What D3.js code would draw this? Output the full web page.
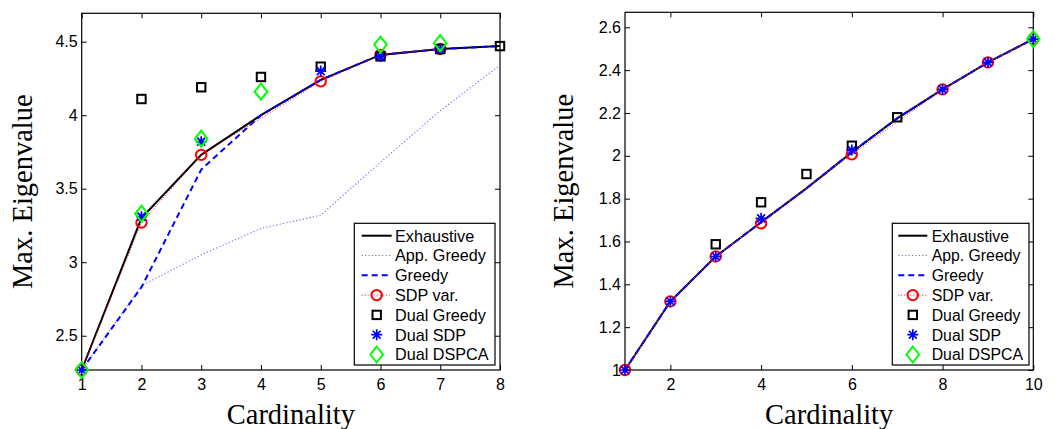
<!DOCTYPE html>
<html><head><meta charset="utf-8">
<script src="https://cdn.jsdelivr.net/npm/d3@7"></script>
<style>body{margin:0;background:#fff}svg{display:block}</style>
</head><body>
<svg id="c" width="1055" height="429"></svg>
<script>
// ---- Data (left panel) ----
const cardL = [1, 2, 3, 4, 5, 6, 7, 8];
const exhaustiveL = [2.267, 3.30, 3.73, 4.00, 4.24, 4.41, 4.45, 4.47];
const appGreedyL  = [2.267, 2.84, 3.05, 3.23, 3.32, 3.68, 4.03, 4.34];
const greedyL     = [2.267, 2.83, 3.63, 4.00, 4.24, 4.41, 4.45, 4.47];
const sdpVarL     = [2.267, 3.27, 3.73, null, 4.23, 4.41, 4.45, null];
const dualGreedyL = [null, 4.11, 4.19, 4.26, 4.33, 4.40, 4.45, 4.47];
const dualSdpL    = [2.267, 3.31, 3.82, null, 4.30, 4.40, 4.45, null];
const dualDspcaL  = [2.267, 3.33, 3.84, 4.16, null, 4.48, 4.49, null];
const yTicksL = [2.5, 3, 3.5, 4, 4.5];
const xTicksL = [1, 2, 3, 4, 5, 6, 7, 8];

// ---- Data (right panel) ----
const cardR = [1, 2, 3, 4, 5, 6, 7, 8, 9, 10];
const exhaustiveR = [1.0, 1.32, 1.53, 1.69, 1.848, 2.017, 2.175, 2.31, 2.436, 2.545];
const appGreedyR  = [1.0, 1.32, 1.53, 1.69, 1.848, 2.017, 2.175, 2.31, 2.436, 2.545];
const greedyR     = [1.0, 1.32, 1.53, 1.69, 1.848, 2.017, 2.175, 2.31, 2.436, 2.545];
const sdpVarR     = [1.0, 1.32, 1.53, 1.685, null, 2.007, null, 2.31, 2.436, 2.545];
const dualGreedyR = [null, null, 1.587, 1.783, 1.915, 2.047, 2.18, null, null, null];
const dualSdpR    = [1.0, 1.32, 1.53, 1.708, null, 2.027, null, 2.31, 2.436, 2.545];
const dualDspcaR  = [null, null, null, null, null, null, null, null, null, 2.545];
const yTicksR = [1, 1.2, 1.4, 1.6, 1.8, 2, 2.2, 2.4, 2.6];
const xTicksR = [2, 4, 6, 8, 10];

const legendLabels = ["Exhaustive", "App. Greedy", "Greedy", "SDP var.", "Dual Greedy", "Dual SDP", "Dual DSPCA"];

const svg = d3.select("#c");
const SANS = "'Liberation Sans', Arial, Helvetica, sans-serif";
const SERIF = "'Liberation Serif', 'Times New Roman', serif";
const APP = "#6a6aff";

function asterisk(g, cx, cy, r) {
  const d = r * 0.72;
  g.append("path")
    .attr("d", `M${cx - r},${cy}L${cx + r},${cy}M${cx},${cy - r}L${cx},${cy + r}` +
               `M${cx - d},${cy - d}L${cx + d},${cy + d}M${cx - d},${cy + d}L${cx + d},${cy - d}`)
    .attr("stroke", "#0000ff").attr("stroke-width", 1.7).attr("fill", "none");
}
function diamond(g, cx, cy) {
  g.append("path")
    .attr("d", `M${cx},${cy - 8}L${cx + 6.3},${cy}L${cx},${cy + 8}L${cx - 6.3},${cy}Z`)
    .attr("stroke", "#00ff00").attr("stroke-width", 2).attr("fill", "none");
}
function square(g, cx, cy) {
  g.append("rect").attr("x", cx - 4.2).attr("y", cy - 4.2).attr("width", 8.4).attr("height", 8.4)
    .attr("stroke", "#000").attr("stroke-width", 2).attr("fill", "none");
}
function circle(g, cx, cy) {
  g.append("circle").attr("cx", cx).attr("cy", cy).attr("r", 5.2)
    .attr("stroke", "#ff0000").attr("stroke-width", 2).attr("fill", "none");
}

function panel(cfg) {
  const g = svg.append("g");
  const x = d3.scaleLinear().domain(cfg.xDomain).range([cfg.left, cfg.right]);
  const y = d3.scaleLinear().domain(cfg.yDomain).range([cfg.bottom, cfg.top]);
  const fmt = d => String(d);

  const ax = (a) => a.attr("font-family", SANS).attr("font-size", 16)
      .call(s => s.select(".domain").remove())
      .call(s => s.selectAll(".tick line").attr("stroke", "#000").attr("stroke-width", 1));
  g.append("g").attr("transform", `translate(0,${cfg.bottom})`)
    .call(d3.axisBottom(x).tickValues(cfg.xTicks).tickFormat(fmt).tickSize(-5).tickPadding(9)).call(ax)
    .selectAll("text").attr("fill", "#000");
  g.append("g").attr("transform", `translate(0,${cfg.top})`)
    .call(d3.axisTop(x).tickValues(cfg.xTicks).tickFormat("").tickSize(-5)).call(ax);
  g.append("g").attr("transform", `translate(${cfg.left},0)`)
    .call(d3.axisLeft(y).tickValues(cfg.yTicks).tickFormat(fmt).tickSize(-5).tickPadding(4)).call(ax)
    .selectAll("text").attr("fill", "#000");
  g.append("g").attr("transform", `translate(${cfg.right},0)`)
    .call(d3.axisRight(y).tickValues(cfg.yTicks).tickFormat("").tickSize(-5)).call(ax);
  g.append("rect").attr("x", cfg.left).attr("y", cfg.top)
    .attr("width", cfg.right - cfg.left).attr("height", cfg.bottom - cfg.top)
    .attr("fill", "none").attr("stroke", "#000").attr("stroke-width", 1.2);

  const pts = (vals) => cfg.xs.map((c, i) => [c, vals[i]]).filter(p => p[1] != null);
  const line = d3.line().x(p => x(p[0])).y(p => y(p[1]));

  g.append("path").attr("d", line(pts(cfg.exh))).attr("fill", "none").attr("stroke", "#000").attr("stroke-width", 2);
  g.append("path").attr("d", line(pts(cfg.app))).attr("fill", "none").attr("stroke", APP)
    .attr("stroke-width", 1.1).attr("stroke-dasharray", "1.2,2.2");
  g.append("path").attr("d", line(pts(cfg.gre))).attr("fill", "none").attr("stroke", "#0000ff")
    .attr("stroke-width", 2).attr("stroke-dasharray", "6,4");
  g.append("path").attr("d", line(pts(cfg.sdp))).attr("fill", "none").attr("stroke", "#ff0000")
    .attr("stroke-width", 1).attr("stroke-dasharray", "1,2");
  pts(cfg.sdp).forEach(p => circle(g, x(p[0]), y(p[1])));
  pts(cfg.dg).forEach(p => square(g, x(p[0]), y(p[1])));
  pts(cfg.ds).forEach(p => asterisk(g, x(p[0]), y(p[1]), 5.5));
  pts(cfg.dd).forEach(p => diamond(g, x(p[0]), y(p[1])));

  g.append("text").attr("x", (cfg.left + cfg.right) / 2).attr("y", 424)
    .attr("text-anchor", "middle").attr("font-family", SERIF).attr("font-size", 28.5).text("Cardinality");
  g.append("text").attr("transform", `translate(${cfg.titleX},${(cfg.top + cfg.bottom) / 2}) rotate(-90)`)
    .attr("text-anchor", "middle").attr("font-family", SERIF).attr("font-size", 28.5).text("Max. Eigenvalue");

  const L = cfg.legend;
  const lg = g.append("g");
  lg.append("rect").attr("x", L.x0).attr("y", 223.3).attr("width", L.x1 - L.x0).attr("height", 141.7)
    .attr("fill", "#fff").attr("stroke", "#000").attr("stroke-width", 1.2);
  const rowY = i => 235.7 + i * 19.8;
  legendLabels.forEach((lab, i) => {
    lg.append("text").attr("x", L.tx).attr("y", rowY(i) + 5.8).attr("font-family", SANS)
      .attr("font-size", L.fs).attr("fill", "#000").text(lab);
  });
  const ls = (i, stroke, w, dash) => lg.append("line").attr("x1", L.s0).attr("x2", L.s1)
    .attr("y1", rowY(i)).attr("y2", rowY(i)).attr("stroke", stroke).attr("stroke-width", w)
    .attr("stroke-dasharray", dash);
  ls(0, "#000", 2, null);
  ls(1, APP, 1.1, "1.2,2.2");
  ls(2, "#0000ff", 2, "6,4");
  ls(3, "#ff0000", 1, "1,2");
  const mx = (L.s0 + L.s1) / 2;
  circle(lg, mx, rowY(3));
  square(lg, mx, rowY(4));
  asterisk(lg, mx, rowY(5), 5.5);
  diamond(lg, mx, rowY(6));
}

panel({
  left: 81.7, right: 500, top: 13.3, bottom: 370,
  xDomain: [1, 8], yDomain: [2.267, 4.693],
  xTicks: xTicksL, yTicks: yTicksL, xs: cardL,
  exh: exhaustiveL, app: appGreedyL, gre: greedyL, sdp: sdpVarL,
  dg: dualGreedyL, ds: dualSdpL, dd: dualDspcaL,
  titleX: 31.6,
  legend: { x0: 354.3, x1: 495, s0: 361.7, s1: 391.7, tx: 395, fs: 16.2 }
});
panel({
  left: 625, right: 1033.3, top: 12.3, bottom: 370,
  xDomain: [1, 10], yDomain: [1, 2.67],
  xTicks: xTicksR, yTicks: yTicksR, xs: cardR,
  exh: exhaustiveR, app: appGreedyR, gre: greedyR, sdp: sdpVarR,
  dg: dualGreedyR, ds: dualSdpR, dd: dualDspcaR,
  titleX: 572.5,
  legend: { x0: 892.3, x1: 1029, s0: 898.3, s1: 927.3, tx: 931.7, fs: 15.8 }
});
</script>
</body></html>
